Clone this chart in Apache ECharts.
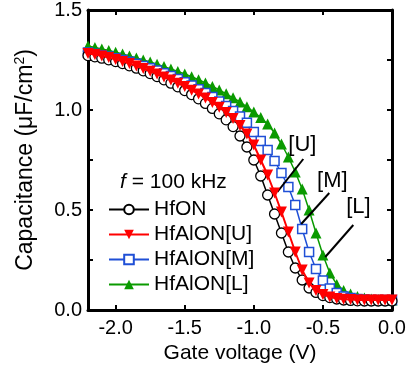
<!DOCTYPE html>
<html>
<head>
<meta charset="utf-8">
<script src="https://cdn.jsdelivr.net/npm/echarts@6/dist/echarts.min.js"></script>
<style>
  html, body { margin: 0; padding: 0; background: #fff; }
  #chart { width: 414px; height: 371px; }
</style>
</head>
<body>
<div id="chart"></div>
<script>
// gate voltage sweep (V), 0.05 V steps
const voltage = [-2.20, -2.15, -2.10, -2.05, -2.00, -1.95, -1.90, -1.85, -1.80, -1.75,
  -1.70, -1.65, -1.60, -1.55, -1.50, -1.45, -1.40, -1.35, -1.30, -1.25,
  -1.20, -1.15, -1.10, -1.05, -1.00, -0.95, -0.90, -0.85, -0.80, -0.75,
  -0.70, -0.65, -0.60, -0.55, -0.50, -0.45, -0.40, -0.35, -0.30, -0.25,
  -0.20, -0.15, -0.10, -0.05, 0.00]

// capacitance (uF/cm2)
const capHfON = [1.272, 1.266, 1.259, 1.251, 1.242, 1.232, 1.221, 1.209, 1.196, 1.182,
  1.167, 1.151, 1.134, 1.116, 1.097, 1.077, 1.056, 1.033, 1.008, 0.981,
  0.951, 0.917, 0.870, 0.815, 0.750, 0.670, 0.575, 0.480, 0.385, 0.290,
  0.210, 0.150, 0.110, 0.088, 0.072, 0.062, 0.055, 0.050, 0.048, 0.046,
  0.045, 0.045, 0.045, 0.045, 0.045]
const capU = [1.283, 1.277, 1.270, 1.262, 1.253, 1.243, 1.232, 1.220, 1.207, 1.194,
  1.180, 1.165, 1.150, 1.134, 1.117, 1.099, 1.080, 1.060, 1.038, 1.014,
  0.988, 0.958, 0.922, 0.880, 0.825, 0.750, 0.675, 0.585, 0.490, 0.390,
  0.290, 0.200, 0.135, 0.098, 0.078, 0.065, 0.058, 0.054, 0.052, 0.050,
  0.050, 0.050, 0.050, 0.050, 0.050]
const capM = [1.287, 1.281, 1.274, 1.267, 1.259, 1.250, 1.241, 1.231, 1.220, 1.209,
  1.197, 1.184, 1.170, 1.155, 1.139, 1.122, 1.104, 1.085, 1.065, 1.043,
  1.020, 0.995, 0.967, 0.936, 0.890, 0.845, 0.800, 0.745, 0.685, 0.615,
  0.525, 0.405, 0.290, 0.205, 0.148, 0.108, 0.085, 0.068, 0.060, 0.055,
  0.052, 0.050, 0.050, 0.050, 0.050]
const capL = [1.320, 1.313, 1.305, 1.297, 1.289, 1.280, 1.270, 1.260, 1.250, 1.240,
  1.229, 1.217, 1.205, 1.193, 1.180, 1.166, 1.151, 1.135, 1.118, 1.100,
  1.081, 1.061, 1.040, 1.016, 0.990, 0.962, 0.930, 0.885, 0.830, 0.765,
  0.690, 0.605, 0.500, 0.385, 0.275, 0.185, 0.128, 0.098, 0.080, 0.068,
  0.060, 0.055, 0.052, 0.050, 0.050]

const seriesNames = ["HfON", "HfAlON[U]", "HfAlON[M]", "HfAlON[L]"]
const xTicks = [-2.0, -1.5, -1.0, -0.5, 0.0]

// callouts: label text, label anchor, leader line start/end (data coords)
const calloutText = ["[U]", "[M]", "[L]"]
const calloutAt = [[-0.649, 0.825], [-0.432, 0.645], [-0.243, 0.515]]
const leaderFrom = [[-0.830, 0.590], [-0.657, 0.430], [-0.483, 0.265]]
const leaderTo = [[-0.642, 0.755], [-0.454, 0.585], [-0.280, 0.425]]

const FONT = "Liberation Sans, Arial, sans-serif"

const pairs = (ys) => voltage.map((v, i) => [v, ys[i]])

const chart = echarts.init(document.getElementById("chart"))

const axisLine = { show: true, onZero: false, lineStyle: { color: "#000", width: 3 } }
const tick = { show: true, inside: true, length: 5, lineStyle: { color: "#000", width: 2 } }
const minor = { show: true, splitNumber: 2, length: 5, lineStyle: { color: "#000", width: 2 } }

chart.setOption({
  animation: false,
  grid: { left: 88, right: 22, top: 10, bottom: 61 },
  xAxis: [
    {
      type: "value",
      min: -2.2,
      max: 0,
      name: "Gate voltage (V)",
      nameLocation: "middle",
      nameGap: 33,
      nameTextStyle: { color: "#000", fontSize: 21, fontFamily: FONT },
      axisLine,
      axisTick: { ...tick, customValues: xTicks },
      axisLabel: {
        customValues: xTicks,
        formatter: (v) => v.toFixed(1),
        color: "#000",
        fontSize: 20,
        fontFamily: FONT,
        margin: 8,
      },
      splitLine: { show: false },
    },
    {
      type: "value",
      position: "top",
      min: -2.2,
      max: 0,
      axisLine,
      axisTick: { ...tick, customValues: xTicks },
      axisLabel: { show: false },
      splitLine: { show: false },
    },
  ],
  yAxis: [
    {
      type: "value",
      min: 0,
      max: 1.5,
      interval: 0.5,
      name: "Capacitance (\u03bcF/cm{sup|2})",
      nameLocation: "middle",
      nameGap: 49,
      nameTextStyle: {
        color: "#000",
        fontSize: 23,
        fontFamily: FONT,
        rich: { sup: { fontSize: 14, verticalAlign: "top", padding: [0, 0, 12, 0], fontFamily: FONT, color: "#000" } },
      },
      axisLine,
      axisTick: tick,
      minorTick: minor,
      axisLabel: {
        formatter: (v) => v.toFixed(1),
        color: "#000",
        fontSize: 20,
        fontFamily: FONT,
        margin: 6,
      },
      splitLine: { show: false },
    },
    {
      type: "value",
      position: "right",
      min: 0,
      max: 1.5,
      interval: 0.5,
      axisLine,
      axisTick: tick,
      minorTick: minor,
      axisLabel: { show: false },
      splitLine: { show: false },
    },
  ],
  legend: {
    orient: "vertical",
    left: 103,
    top: 194,
    itemWidth: 40,
    itemHeight: 12,
    itemGap: 4,
    data: seriesNames,
    textStyle: { color: "#000", fontSize: 21, lineHeight: 21, fontFamily: FONT },
  },
  graphic: [
    {
      type: "text",
      left: 120,
      top: 172,
      style: {
        text: "{i|f} = 100 kHz",
        font: "21px " + FONT,
        fill: "#000",
        rich: { i: { fontStyle: "italic", fontSize: 21, fontFamily: FONT, fill: "#000" } },
      },
    },
  ],
  series: [
    {
      name: "HfAlON[L]",
      type: "line",
      z: 2,
      data: pairs(capL),
      symbol: "triangle",
      symbolSize: 11,
      itemStyle: { color: "#0a9a00" },
      lineStyle: { color: "#0a9a00", width: 1.5 },
      markLine: {
        silent: true,
        symbol: ["none", "none"],
        label: { show: false },
        lineStyle: { color: "#000", width: 2, type: "solid" },
        data: leaderFrom.map((p, i) => [{ coord: p }, { coord: leaderTo[i] }]),
      },
      markPoint: {
        silent: true,
        symbol: "circle",
        symbolSize: 0,
        label: {
          show: true,
          position: "inside",
          formatter: (p) => p.name,
          color: "#000",
          fontSize: 22,
          fontFamily: FONT,
        },
        data: calloutText.map((t, i) => ({ name: t, coord: calloutAt[i] })),
      },
    },
    {
      name: "HfAlON[M]",
      type: "line",
      z: 3,
      data: pairs(capM),
      symbol: "rect",
      symbolSize: 9,
      itemStyle: { color: "#fff", borderColor: "#1f4fd6", borderWidth: 1.5 },
      lineStyle: { color: "#1f4fd6", width: 1.5 },
    },
    {
      name: "HfON",
      type: "line",
      z: 4,
      data: pairs(capHfON),
      symbol: "circle",
      symbolSize: 10,
      itemStyle: { color: "#fff", borderColor: "#000", borderWidth: 1.3 },
      lineStyle: { color: "#000", width: 1.5 },
    },
    {
      name: "HfAlON[U]",
      type: "line",
      z: 5,
      data: pairs(capU),
      symbol: "triangle",
      symbolRotate: 180,
      symbolSize: 11,
      itemStyle: { color: "#ff0000" },
      lineStyle: { color: "#ff0000", width: 2 },
    },
  ],
})
</script>
</body>
</html>
